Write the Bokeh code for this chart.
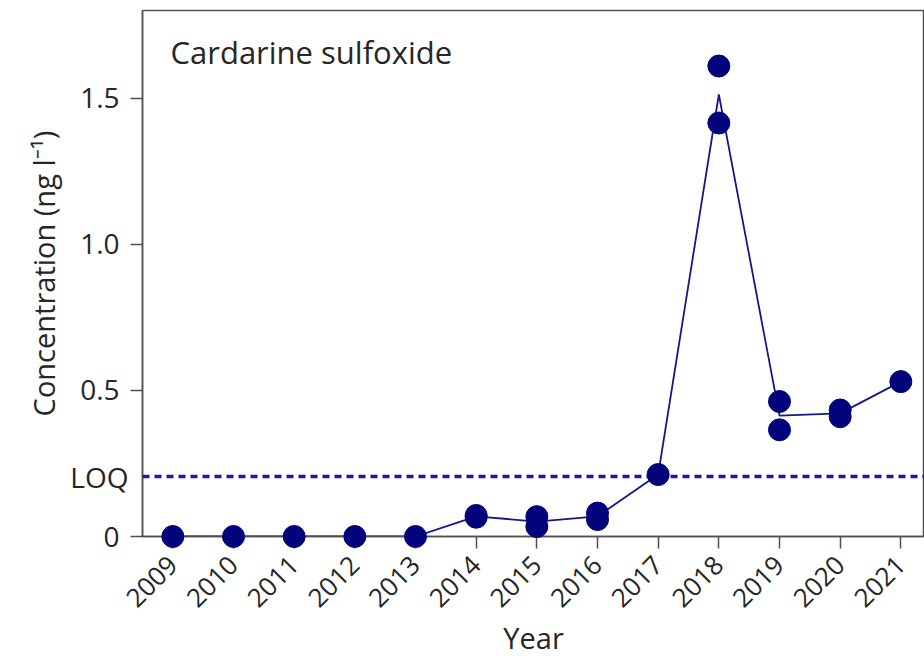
import math
import pandas as pd
from bokeh.plotting import figure
from bokeh.models import FixedTicker, Span, Label, Range1d
from bokeh.core.properties import value
from bokeh.embed import file_html
from bokeh.resources import INLINE

# ---------------- data ----------------
compound = "Cardarine sulfoxide"
years = [2009, 2010, 2011, 2012, 2013, 2014, 2015, 2016, 2017, 2018, 2019, 2020, 2021]
sample_years = [2009, 2010, 2011, 2012, 2013,
                2014, 2014, 2015, 2015, 2016, 2016,
                2017, 2018, 2018, 2019, 2019, 2020, 2020, 2021]
sample_conc = [0.0, 0.0, 0.0, 0.0, 0.0,
               0.072, 0.066, 0.068, 0.034, 0.080, 0.058,
               0.212, 1.610, 1.415, 0.462, 0.365, 0.433, 0.410, 0.530]
loq = 0.205
loq_text = "LOQ"
y_tick_values = [0, 0.5, 1.0, 1.5]
y_tick_labels = ["0", "0.5", "1.0", "1.5"]
x_label = "Year"
y_label = "Concentration (ng l\u207b\u00b9)"

df = pd.DataFrame({"year": sample_years, "conc": sample_conc})
means = df.groupby("year", as_index=False)["conc"].mean()

# ---------------- style ----------------
FONT = "Open Sans"
TEXT = "#262626"
AXC = "#505050"
NAVY = "#03037c"
LINE = "#16168a"
LOQC = "#1a1aa6"
X0, X1 = 2008.5, 2021.39

p = figure(width=924, height=663, output_backend="svg", toolbar_location=None,
           x_range=Range1d(X0, X1), y_range=Range1d(0, 1.8),
           min_border_left=142, min_border_right=0, min_border_top=10,
           min_border_bottom=127)
p.background_fill_color = "white"
p.border_fill_color = "white"
p.outline_line_color = AXC
p.outline_line_width = 1.5
p.xgrid.visible = False
p.ygrid.visible = False

for ax in (p.xaxis[0], p.yaxis[0]):
    ax.axis_line_color = AXC
    ax.axis_line_width = 1.5
    ax.major_tick_line_color = AXC
    ax.major_tick_line_width = 1.5
    ax.major_tick_in = 0
    ax.major_tick_out = 12
    ax.minor_tick_line_color = None
    ax.major_label_text_font = FONT
    ax.major_label_text_color = TEXT
    ax.axis_label_text_font = FONT
    ax.axis_label_text_font_size = "29px"
    ax.axis_label_text_font_style = "normal"
    ax.axis_label_text_color = TEXT

p.xaxis.ticker = FixedTicker(ticks=years)
p.xaxis.major_label_orientation = math.pi / 4
p.xaxis.major_label_text_font_size = "26px"
p.xaxis.major_label_standoff = 12
p.xaxis.axis_label = x_label
p.xaxis.axis_label_standoff = 0

p.yaxis.ticker = FixedTicker(ticks=y_tick_values)
p.yaxis.major_label_overrides = {v: l for v, l in zip(y_tick_values, y_tick_labels)}
p.yaxis.major_label_text_font_size = "28px"
p.yaxis.major_label_standoff = 11
p.yaxis.axis_label = y_label
p.yaxis.axis_label_standoff = 14

# LOQ dashed line and its label (drawn at overlay level so it is not clipped)
p.add_layout(Span(location=loq, dimension="width", line_color=LOQC,
                  line_width=3.5, line_dash="7 5"))
loq_r = p.text(x=[X0], y=[loq], text=[loq_text], x_offset=-14,
               text_align="right", text_baseline="middle",
               text_font=value(FONT), text_font_size="28px", text_color=TEXT)
loq_r.level = "overlay"

# mean line and sample points
p.line(means["year"], means["conc"], line_color=LINE, line_width=1.8)
pts = p.scatter(df["year"], df["conc"], size=22, fill_color=NAVY, line_color=NAVY)
pts.level = "overlay"

# panel title
p.add_layout(Label(x=X0, y=1.8, x_offset=28, y_offset=-41, text=compound,
                   text_align="left", text_baseline="middle", text_font=FONT,
                   text_font_size="31px", text_color=TEXT))

open("out.html", "w").write(file_html(p, INLINE))
